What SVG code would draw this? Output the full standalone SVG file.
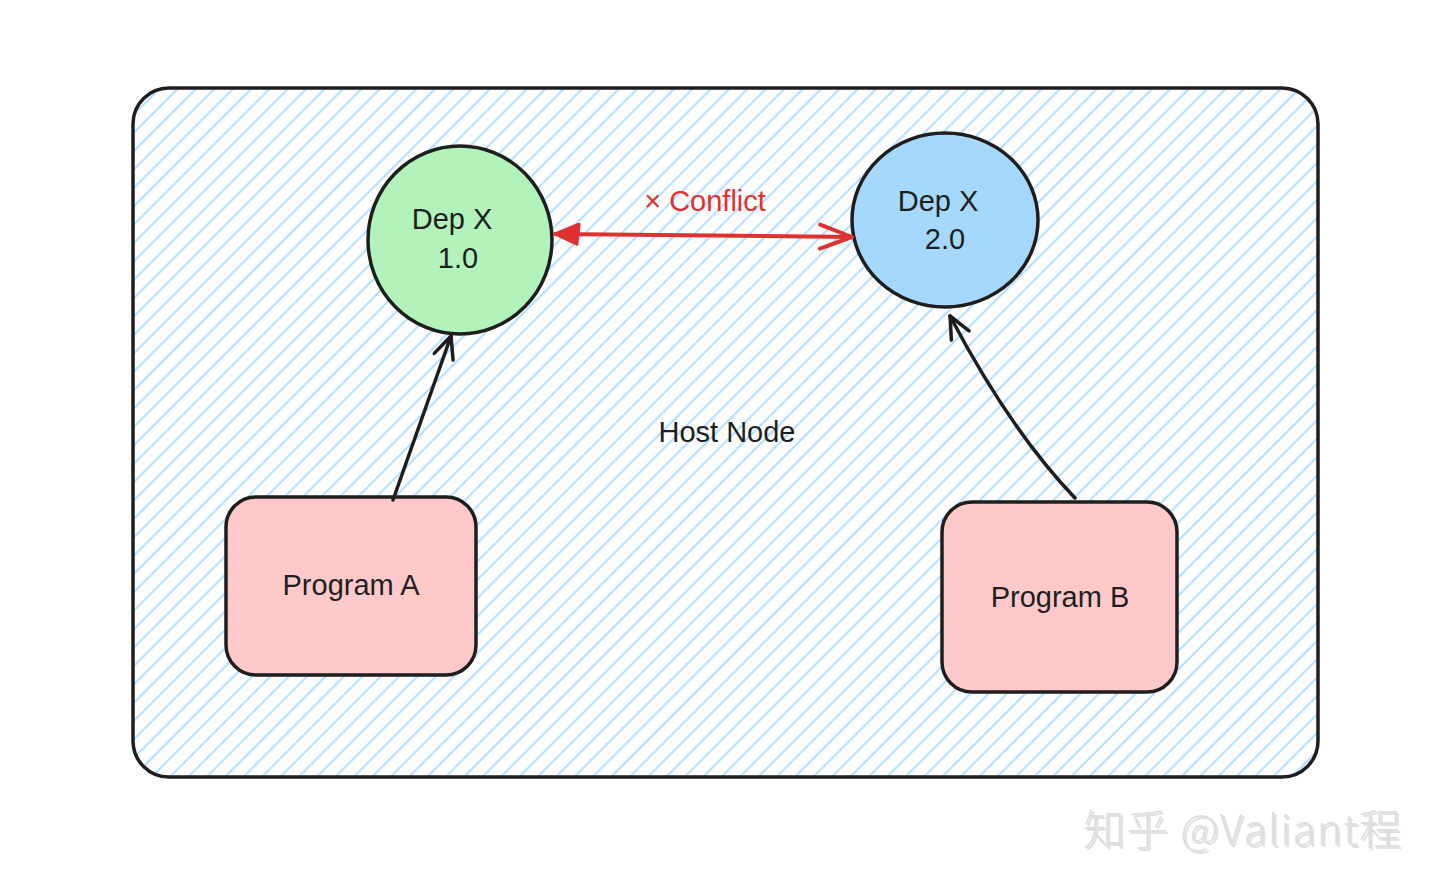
<svg xmlns="http://www.w3.org/2000/svg" width="1440" height="888" viewBox="0 0 1440 888">
<defs>
<pattern id="hatch" patternUnits="userSpaceOnUse" width="13" height="13" patternTransform="rotate(-45)">
<line x1="0" y1="6.5" x2="13" y2="6.5" stroke="#a5d8ff" stroke-width="1.8"/>
</pattern>
<marker id="openHead" markerWidth="30" markerHeight="30" refX="26" refY="15" orient="auto" markerUnits="userSpaceOnUse">
<path d="M4,5 L26,15 L4,25" fill="none" stroke="#1e1e1e" stroke-width="3.5" stroke-linecap="round" stroke-linejoin="round"/>
</marker>
<marker id="redOpen" markerWidth="40" markerHeight="30" refX="36" refY="15" orient="auto" markerUnits="userSpaceOnUse">
<path d="M4,3 L36,15 L4,27" fill="none" stroke="#e03131" stroke-width="4" stroke-linecap="round" stroke-linejoin="round"/>
</marker>
<marker id="redTri" markerWidth="30" markerHeight="30" refX="2" refY="15" orient="auto" markerUnits="userSpaceOnUse">
<path d="M2,15 L26,5 L24,25 Z" fill="#e03131" stroke="#e03131" stroke-width="3" stroke-linejoin="round"/>
</marker>
</defs>
<style>
.lbl{font-family:"Liberation Sans","Open Sans",sans-serif;font-size:29px;fill:#1e1e1e;text-anchor:middle}
.node{stroke:#1e1e1e;stroke-width:3.5}
.edge{fill:none;stroke:#1e1e1e;stroke-width:3.5;stroke-linecap:round}
.wm{font-family:"Noto Sans CJK SC","Liberation Sans",sans-serif;font-size:42px;font-weight:300}
</style>
<rect width="1440" height="888" fill="#ffffff"/>
<g id="host-node">
<rect x="133" y="88" width="1185" height="689" rx="36" fill="url(#hatch)" stroke="#1e1e1e" stroke-width="3.5"/>
<text class="lbl" x="727" y="442">Host Node</text>
</g>
<g id="dep-x-1">
<ellipse cx="460" cy="240" rx="92" ry="94" fill="#b2f2bb" class="node"/>
<text class="lbl" x="452" y="229">Dep X</text>
<text class="lbl" x="458" y="268">1.0</text>
</g>
<g id="dep-x-2">
<ellipse cx="945" cy="220" rx="93" ry="87" fill="#a5d8ff" class="node"/>
<text class="lbl" x="938" y="211">Dep X</text>
<text class="lbl" x="945" y="249">2.0</text>
</g>
<g id="program-a">
<rect x="226" y="497" width="250" height="178" rx="30" fill="#ffc9c9" class="node"/>
<text class="lbl" x="351" y="595">Program A</text>
</g>
<g id="program-b">
<rect x="942" y="502" width="235" height="190" rx="30" fill="#ffc9c9" class="node"/>
<text class="lbl" x="1060" y="607">Program B</text>
</g>
<g id="connectors">
<path class="edge" d="M393,500 L451,336" marker-end="url(#openHead)"/>
<path class="edge" d="M1075,498 Q1010,430 950,316" marker-end="url(#openHead)"/>
<path d="M555,234 L852,237" fill="none" stroke="#e03131" stroke-width="4" stroke-linecap="round" marker-start="url(#redTri)" marker-end="url(#redOpen)"/>
<text x="705" y="211" font-family="'Liberation Sans','Open Sans',sans-serif" font-size="29" fill="#e03131" text-anchor="middle">× Conflict</text>
</g>
<g id="watermark">
<text class="wm" x="1085" y="847" fill="#9a9a9a" opacity="0.3" textLength="318">知乎 @Valiant程</text>
<text class="wm" x="1083" y="845" fill="#dedede" textLength="318">知乎 @Valiant程</text>
</g>
</svg>
